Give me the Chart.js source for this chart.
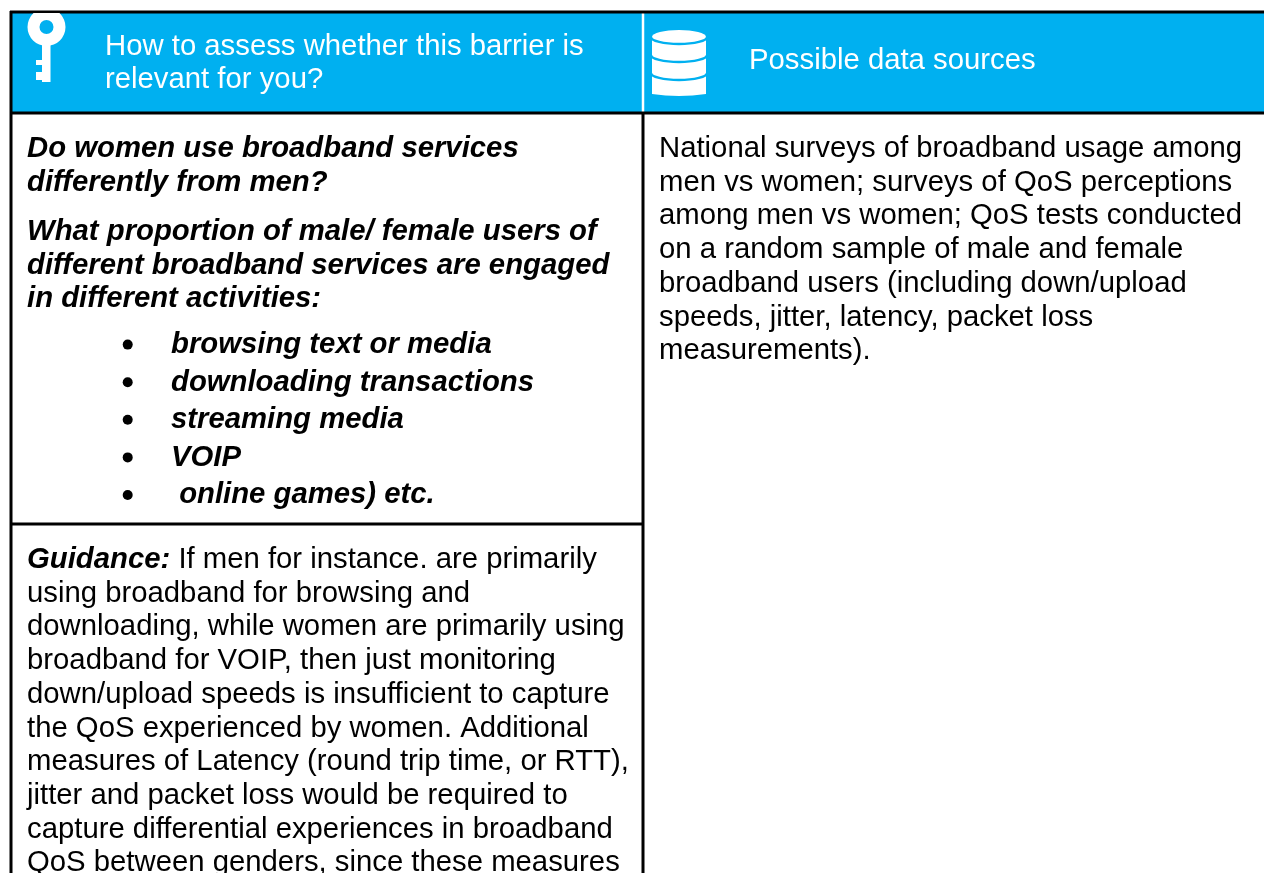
<!DOCTYPE html>
<html>
<head>
<meta charset="utf-8">
<title>Barrier assessment table</title>
<script src="https://cdn.jsdelivr.net/npm/chart.js@4"></script>
<style>
    html, body { margin: 0; padding: 0; background: #fff; overflow: hidden; }
    canvas { display: block; }
</style>
</head>
<body>
<canvas id="tableChart" width="1264" height="873"></canvas>
<script>
// The picture has no data series, only a table, so these are its texts
const headerLeft = ['How to assess whether this barrier is', 'relevant for you?'];
const headerRight = ['Possible data sources'];
const questionsOne = ['Do women use broadband services', 'differently from men?'];
const questionsTwo = ['What proportion of male/ female users of', 'different broadband services are engaged', 'in different activities:'];
const activities = ['browsing text or media', 'downloading transactions', 'streaming media', 'VOIP', ' online games) etc.'];
const guidanceLead = 'Guidance:';
const guidanceLines = [
    ' If men for instance. are primarily',
    'using broadband for browsing and',
    'downloading, while women are primarily using',
    'broadband for VOIP, then just monitoring',
    'down/upload speeds is insufficient to capture',
    'the QoS experienced by women. Additional',
    'measures of Latency (round trip time, or RTT),',
    'jitter and packet loss would be required to',
    'capture differential experiences in broadband',
    'QoS between genders, since these measures',
];
const sourceLines = [
    'National surveys of broadband usage among',
    'men vs women; surveys of QoS perceptions',
    'among men vs women; QoS tests conducted',
    'on a random sample of male and female',
    'broadband users (including down/upload',
    'speeds, jitter, latency, packet loss',
    'measurements).',
];

const BLUE = '#00B0F0';
const FONT = '"Liberation Sans", Arial, sans-serif';
const BODY_PX = 29.3;
const LINE = 33.7;
const BULLET_LINE = 37.6;

function drawKey(ctx) {
    ctx.save();
    ctx.filter = 'blur(0.7px)';
    ctx.fillStyle = '#fff';
    ctx.beginPath();
    ctx.rect(12, 13, 70, 80);
    ctx.clip();
    ctx.beginPath();
    ctx.arc(46.5, 27, 19, 0, Math.PI * 2);
    ctx.arc(46.5, 27, 7, 0, Math.PI * 2, true);
    ctx.fill();
    ctx.fillRect(42, 44, 8.5, 38);
    ctx.fillRect(36, 60, 7, 5);
    ctx.fillRect(36, 72, 7, 8);
    ctx.restore();
}

function drawDatabase(ctx) {
    const left = 652, right = 706, mid = 679, rx = 27;
    ctx.save();
    ctx.filter = 'blur(0.6px)';
    ctx.fillStyle = '#fff';
    ctx.beginPath();
    ctx.ellipse(mid, 37, rx, 7, 0, Math.PI, 0);
    ctx.lineTo(right, 94);
    ctx.quadraticCurveTo(mid, 98, left, 94);
    ctx.closePath();
    ctx.fill();
    ctx.strokeStyle = BLUE;
    ctx.lineWidth = 2.4;
    [37, 55, 73].forEach(y => {
        ctx.beginPath();
        ctx.ellipse(mid, y, rx + 1, 7, 0, 0, Math.PI);
        ctx.stroke();
    });
    ctx.restore();
}

function drawLines(ctx, lines, x, firstBaseline, step, font, color) {
    ctx.font = font;
    ctx.fillStyle = color;
    lines.forEach((line, i) => ctx.fillText(line, x, firstBaseline + i * step));
}

const tablePlugin = {
    id: 'tablePlugin',
    beforeDraw(chart) {
        const ctx = chart.ctx;
        ctx.save();
        ctx.fillStyle = '#fff';
        ctx.fillRect(0, 0, 1264, 873);
        ctx.fillStyle = BLUE;
        ctx.fillRect(12, 13, 1252, 99);
        ctx.restore();
    },
    afterDraw(chart) {
        const ctx = chart.ctx;
        ctx.save();
        ctx.textBaseline = 'alphabetic';
        ctx.textAlign = 'left';

        drawKey(ctx);
        drawDatabase(ctx);

        ctx.filter = 'blur(0.3px)'; // the reference text is a little soft
        const plain = `${BODY_PX}px ${FONT}`;
        const bold = `italic bold ${BODY_PX}px ${FONT}`;

        drawLines(ctx, headerLeft, 105, 55, 33, plain, '#fff');
        drawLines(ctx, headerRight, 749, 69, 33, plain, '#fff');

        drawLines(ctx, questionsOne, 27, 157, LINE, bold, '#000');
        drawLines(ctx, questionsTwo, 27, 240, LINE, bold, '#000');
        drawLines(ctx, activities, 171, 353, BULLET_LINE, bold, '#000');

        ctx.font = bold;
        ctx.fillStyle = '#000';
        ctx.fillText(guidanceLead, 27, 568);
        const leadWidth = ctx.measureText(guidanceLead).width;
        ctx.font = plain;
        ctx.fillText(guidanceLines[0], 27 + leadWidth, 568);
        guidanceLines.slice(1).forEach((line, i) => ctx.fillText(line, 27, 568 + (i + 1) * LINE));

        drawLines(ctx, sourceLines, 659, 157, LINE, plain, '#000');
        ctx.restore();
    },
};

new Chart(document.getElementById('tableChart'), {
    type: 'scatter',
    data: {
        datasets: [
            // table rules
            { data: [{ x: 10, y: 12 }, { x: 1264, y: 12 }], showLine: true, borderColor: '#000', borderWidth: 3, pointRadius: 0 },
            { data: [{ x: 10, y: 113 }, { x: 1264, y: 113 }], showLine: true, borderColor: '#000', borderWidth: 3, pointRadius: 0 },
            { data: [{ x: 11, y: 11 }, { x: 11, y: 873 }], showLine: true, borderColor: '#000', borderWidth: 3, pointRadius: 0 },
            { data: [{ x: 643, y: 13 }, { x: 643, y: 112 }], showLine: true, borderColor: '#fff', borderWidth: 2.5, pointRadius: 0 },
            { data: [{ x: 643, y: 113 }, { x: 643, y: 873 }], showLine: true, borderColor: '#000', borderWidth: 3, pointRadius: 0 },
            { data: [{ x: 11, y: 524 }, { x: 643, y: 524 }], showLine: true, borderColor: '#000', borderWidth: 3, pointRadius: 0 },
            // list bullets
            { data: activities.map((_, i) => ({ x: 127.7, y: 344.6 + i * BULLET_LINE })), showLine: false, backgroundColor: '#000', borderWidth: 0, pointRadius: 5 },
        ],
    },
    options: {
        responsive: false,
        animation: false,
        layout: { padding: 0, autoPadding: false },
        plugins: { legend: { display: false }, tooltip: { enabled: false }, title: { display: false } },
        scales: {
            x: { type: 'linear', display: false, min: 0, max: 1264 },
            y: { type: 'linear', display: false, min: 0, max: 873, reverse: true },
        },
    },
    plugins: [tablePlugin],
});
</script>
</body>
</html>
